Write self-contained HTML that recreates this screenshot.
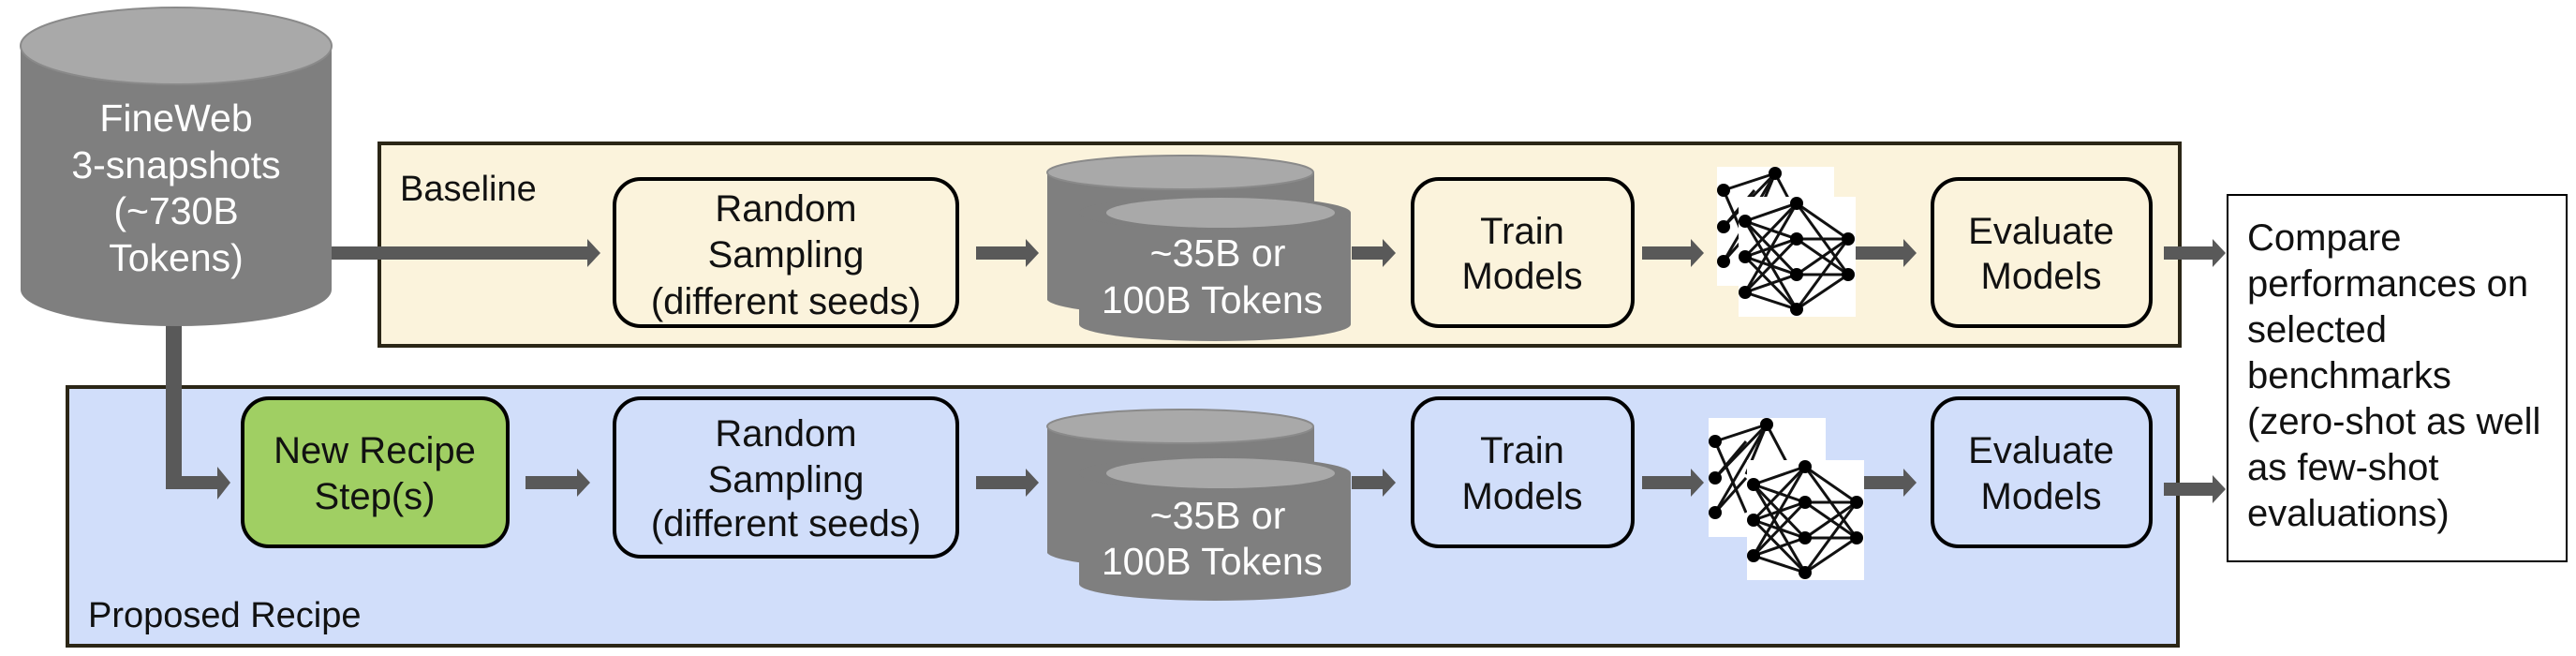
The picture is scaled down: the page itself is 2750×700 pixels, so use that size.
<!DOCTYPE html>
<html><head><meta charset="utf-8"><style>
html,body{margin:0;padding:0;background:#fff;}
svg{display:block;}
text{font-family:"Liberation Sans",sans-serif;}
</style></head><body>
<svg width="2750" height="700" viewBox="0 0 2750 700" xmlns="http://www.w3.org/2000/svg">
<defs>
<g id="nnback">
  <rect x="0" y="0" width="125" height="127" fill="#fff"/>
  <g stroke="#111" stroke-width="3">
    <line x1="7" y1="25" x2="62" y2="7"/><line x1="7" y1="64" x2="62" y2="7"/><line x1="7" y1="101" x2="62" y2="7"/>
    <line x1="62" y1="7" x2="90" y2="60"/><line x1="62" y1="7" x2="40" y2="60"/>
    <line x1="7" y1="25" x2="40" y2="101"/><line x1="7" y1="64" x2="40" y2="25"/><line x1="7" y1="101" x2="40" y2="64"/>
  </g>
  <g fill="#000"><circle cx="7" cy="25" r="7"/><circle cx="7" cy="64" r="7"/><circle cx="7" cy="101" r="7"/><circle cx="62" cy="7" r="7"/></g>
</g>
<g id="nnfront">
  <rect x="0" y="0" width="125" height="128" fill="#fff"/>
  <g stroke="#111" stroke-width="3">
    <line x1="7" y1="26" x2="62" y2="7"/><line x1="7" y1="26" x2="62" y2="45"/><line x1="7" y1="26" x2="62" y2="83"/><line x1="7" y1="26" x2="62" y2="120"/>
    <line x1="7" y1="64" x2="62" y2="7"/><line x1="7" y1="64" x2="62" y2="45"/><line x1="7" y1="64" x2="62" y2="83"/><line x1="7" y1="64" x2="62" y2="120"/>
    <line x1="7" y1="102" x2="62" y2="7"/><line x1="7" y1="102" x2="62" y2="45"/><line x1="7" y1="102" x2="62" y2="83"/><line x1="7" y1="102" x2="62" y2="120"/>
    <line x1="62" y1="7" x2="117" y2="45"/><line x1="62" y1="7" x2="117" y2="83"/>
    <line x1="62" y1="45" x2="117" y2="45"/><line x1="62" y1="45" x2="117" y2="83"/>
    <line x1="62" y1="83" x2="117" y2="45"/><line x1="62" y1="83" x2="117" y2="83"/>
    <line x1="62" y1="120" x2="117" y2="45"/><line x1="62" y1="120" x2="117" y2="83"/>
  </g>
  <g fill="#000">
    <circle cx="7" cy="26" r="7"/><circle cx="7" cy="64" r="7"/><circle cx="7" cy="102" r="7"/>
    <circle cx="62" cy="7" r="7"/><circle cx="62" cy="45" r="7"/><circle cx="62" cy="83" r="7"/><circle cx="62" cy="120" r="7"/>
    <circle cx="117" cy="45" r="7"/><circle cx="117" cy="83" r="7"/>
  </g>
</g>
</defs>

<rect x="405" y="153" width="1922" height="216" fill="#fbf3dc" stroke="#2b2616" stroke-width="4"/>
<rect x="72" y="413" width="2253" height="276" fill="#d1defa" stroke="#2b2616" stroke-width="4"/>
<text x="427" y="214" font-size="38" fill="#111">Baseline</text>
<text x="94" y="669" font-size="38" fill="#111">Proposed Recipe</text>

<polygon points="177,340 194,340 194,508 232,508 232,498 246,515 232,533 232,522 177,522" fill="#595959"/>

<path d="M22,49 L22,309 A166,39 0 0 0 354,309 L354,49 Z" fill="#7f7f7f"/>
<ellipse cx="188" cy="49" rx="166" ry="41" fill="#a9a9a9" stroke="#8a8a8a" stroke-width="2"/>
<g font-size="41" fill="#fff" text-anchor="middle">
<text x="188" y="140">FineWeb</text>
<text x="188" y="190">3-snapshots</text>
<text x="188" y="239">(~730B</text>
<text x="188" y="289">Tokens)</text>
</g>

<g fill="#595959">
<polygon points="354,263 627,263 627,255 641,270 627,285 627,277 354,277"/>
<polygon points="1042,263 1095,263 1095,255 1109,270 1095,285 1095,277 1042,277"/>
<polygon points="1443,263 1476,263 1476,255 1490,270 1476,285 1476,277 1443,277"/>
<polygon points="1753,263 1805,263 1805,255 1819,270 1805,285 1805,277 1753,277"/>
<polygon points="1981,263 2032,263 2032,255 2046,270 2032,285 2032,277 1981,277"/>
<polygon points="2310,263 2362,263 2362,255 2376,270 2362,285 2362,277 2310,277"/>
<polygon points="561,508 616,508 616,500 630,515 616,530 616,522 561,522"/>
<polygon points="1042,508 1095,508 1095,500 1109,515 1095,530 1095,522 1042,522"/>
<polygon points="1443,508 1476,508 1476,500 1490,515 1476,530 1476,522 1443,522"/>
<polygon points="1753,508 1805,508 1805,500 1819,515 1805,530 1805,522 1753,522"/>
<polygon points="1981,508 2032,508 2032,500 2046,515 2032,530 2032,522 1981,522"/>
<polygon points="2310,515 2362,515 2362,507 2376,522 2362,537 2362,529 2310,529"/>
</g>

<g stroke="#000" stroke-width="4">
<rect x="656" y="191" width="366" height="157" rx="28" fill="#fbf3dc"/>
<rect x="1508" y="191" width="235" height="157" rx="28" fill="#fbf3dc"/>
<rect x="2063" y="191" width="233" height="157" rx="28" fill="#fbf3dc"/>
<rect x="259" y="425" width="283" height="158" rx="28" fill="#a0cf63"/>
<rect x="656" y="425" width="366" height="169" rx="28" fill="#d1defa"/>
<rect x="1508" y="425" width="235" height="158" rx="28" fill="#d1defa"/>
<rect x="2063" y="425" width="233" height="158" rx="28" fill="#d1defa"/>
</g>
<rect x="2378" y="208" width="362" height="391" fill="#fff" stroke="#000" stroke-width="2"/>

<g font-size="40" fill="#111" text-anchor="middle">
<text x="839" y="236">Random</text><text x="839" y="285">Sampling</text><text x="839" y="335">(different seeds)</text>
<text x="1625" y="260">Train</text><text x="1625" y="308">Models</text>
<text x="2179" y="260">Evaluate</text><text x="2179" y="308">Models</text>
<text x="400" y="494">New Recipe</text><text x="400" y="543">Step(s)</text>
<text x="839" y="476">Random</text><text x="839" y="525">Sampling</text><text x="839" y="572">(different seeds)</text>
<text x="1625" y="494">Train</text><text x="1625" y="543">Models</text>
<text x="2179" y="494">Evaluate</text><text x="2179" y="543">Models</text>
</g>
<g font-size="40" fill="#111">
<text x="2399" y="267">Compare</text>
<text x="2399" y="316">performances on</text>
<text x="2399" y="365">selected</text>
<text x="2399" y="414">benchmarks</text>
<text x="2399" y="463">(zero-shot as well</text>
<text x="2399" y="512">as few-shot</text>
<text x="2399" y="561">evaluations)</text>
</g>

<g>
<path d="M1118,184 L1118,320 A143,18 0 0 0 1403,320 L1403,184 Z" fill="#7f7f7f"/>
<ellipse cx="1260" cy="184" rx="142" ry="18" fill="#a9a9a9" stroke="#8a8a8a" stroke-width="2"/>
<path d="M1152,227 L1152,346 A145,18 0 0 0 1442,346 L1442,227 Z" fill="#7f7f7f"/>
<ellipse cx="1297" cy="227" rx="145" ry="18" fill="#7f7f7f"/>
<ellipse cx="1303" cy="227" rx="122" ry="16" fill="#a9a9a9"/>
</g>
<g font-size="41" fill="#fff" text-anchor="middle">
<text x="1300" y="284">~35B or</text><text x="1294" y="334">100B Tokens</text>
</g>
<g>
<path d="M1118,455 L1118,590 A143,18 0 0 0 1403,590 L1403,455 Z" fill="#7f7f7f"/>
<ellipse cx="1260" cy="455" rx="142" ry="18" fill="#a9a9a9" stroke="#8a8a8a" stroke-width="2"/>
<path d="M1152,505 L1152,623 A145,18 0 0 0 1442,623 L1442,505 Z" fill="#7f7f7f"/>
<ellipse cx="1297" cy="505" rx="145" ry="18" fill="#7f7f7f"/>
<ellipse cx="1303" cy="505" rx="122" ry="16" fill="#a9a9a9"/>
</g>
<g font-size="41" fill="#fff" text-anchor="middle">
<text x="1300" y="564">~35B or</text><text x="1294" y="613">100B Tokens</text>
</g>

<use href="#nnback" x="1833" y="178"/>
<use href="#nnfront" x="1856" y="210"/>
<use href="#nnback" x="1824" y="446"/>
<use href="#nnfront" x="1865" y="491"/>
</svg>
</body></html>
